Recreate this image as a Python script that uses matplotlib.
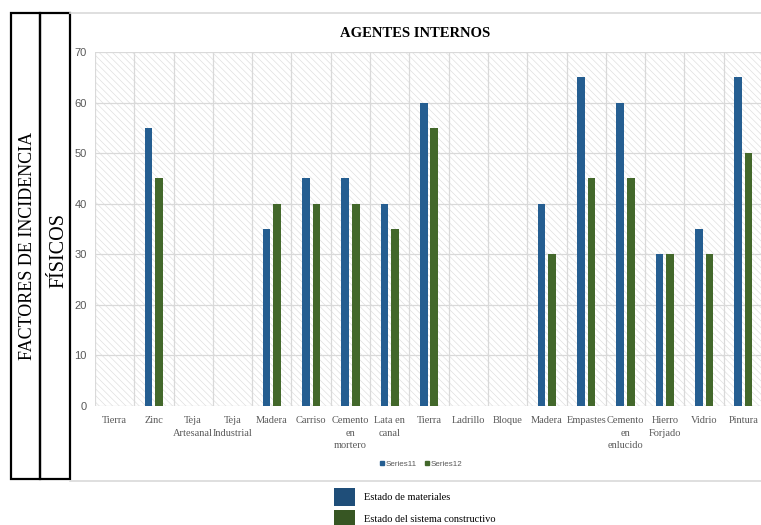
#!/usr/bin/env python3
"""Bar chart of internal agents (physical incidence factors)."""

import matplotlib

matplotlib.use("Agg")
import matplotlib.pyplot as plt
import numpy as np
from matplotlib.lines import Line2D
from matplotlib.patches import Rectangle

CATEGORIES = [
    "Tierra", "Zinc", "Teja\nArtesanal", "Teja\nIndustrial", "Madera", "Carriso",
    "Cemento\nen\nmortero", "Lata en\ncanal", "Tierra", "Ladrillo", "Bloque",
    "Madera", "Empastes", "Cemento\nen\nenlucido", "Hierro\nForjado", "Vidrio",
    "Pintura",
]
SERIES11 = [0, 55, 0, 0, 35, 45, 45, 40, 60, 0, 0, 40, 65, 60, 30, 35, 65]
SERIES12 = [0, 45, 0, 0, 40, 40, 40, 35, 55, 0, 0, 30, 45, 45, 30, 30, 50]
SERIES_NAMES = ["Series11", "Series12"]
LEGEND_LABELS = ["Estado de materiales", "Estado del sistema constructivo"]

BLUE = "#255E91"
GREEN = "#43682B"
GRID = "#D9D9D9"
TICK_GRAY = "#595959"
SERIF = "Liberation Serif"
SANS = "Liberation Sans"

W, H = 761, 525


def fx(px):
    return px / W


def fy(py):
    return 1 - py / H


def main():
    plt.rcParams["hatch.linewidth"] = 0.5

    fig = plt.figure(figsize=(W / 100, H / 100), dpi=100)
    ax = fig.add_axes([fx(95), fy(406), fx(763) - fx(95), fy(52) - fy(406)])

    n = len(CATEGORIES)
    x = np.arange(n)
    width = 0.195
    offset = 0.135

    # diagonal hatched plot background
    ax.add_patch(Rectangle((-0.5, 0), n, 70, facecolor="white", edgecolor="#E0E0E0",
                           lw=0, hatch="\\\\\\\\\\", zorder=0))
    ax.bar(x - offset, SERIES11, width, color=BLUE, zorder=3, label=SERIES_NAMES[0])
    ax.bar(x + offset, SERIES12, width, color=GREEN, zorder=3, label=SERIES_NAMES[1])

    ax.set_xlim(-0.5, n - 0.5)
    ax.set_ylim(0, 70)
    ax.set_yticks(range(0, 71, 10))
    for y in range(0, 71, 10):
        ax.axhline(y, color=GRID, lw=0.9, zorder=1)
    for b in np.arange(-0.5, n, 1.0):
        ax.axvline(b, color=GRID, lw=0.9, zorder=1)
    for s in ax.spines.values():
        s.set_visible(False)

    ax.set_xticks(x)
    ax.set_xticklabels(CATEGORIES, fontfamily=SERIF, fontsize=7.5, color=TICK_GRAY,
                       linespacing=1.55, va="top")
    ax.tick_params(axis="x", length=0, pad=7)
    ax.tick_params(axis="y", length=0, pad=6, labelsize=8, labelcolor=TICK_GRAY)
    for lbl in ax.get_yticklabels():
        lbl.set_fontfamily(SANS)

    ax.set_title("AGENTES INTERNOS", fontfamily=SERIF, fontweight="bold", fontsize=10.5,
                 x=(415 - 95) / (763 - 95), y=1.0, pad=11)

    # small series legend under the axis
    handles = [Line2D([], [], ls="none", marker="s", ms=3.5, color=c) for c in (BLUE, GREEN)]
    fig.legend(handles, SERIES_NAMES, loc="center", bbox_to_anchor=(fx(421), fy(464)),
               ncol=2, frameon=False, handlelength=0.6, handletextpad=0.2, columnspacing=0.9,
               prop={"family": SANS, "size": 5.8}, labelcolor=TICK_GRAY)

    # chart frame lines
    fig.add_artist(Line2D([fx(70), 1], [fy(13), fy(13)], color=GRID, lw=1.2))
    fig.add_artist(Line2D([fx(70), 1], [fy(481), fy(481)], color=GRID, lw=1.2))

    # left label boxes
    for x0, x1 in [(11, 40), (40, 70)]:
        fig.add_artist(Rectangle((fx(x0), fy(479)), fx(x1) - fx(x0), fy(13) - fy(479),
                                 facecolor="none", edgecolor="black", lw=1.6))
    fig.text(fx(28), fy(246), "FACTORES DE INCIDENCIA", rotation=90, ha="center", va="center",
             fontfamily=SERIF, fontsize=13)
    fig.text(fx(59), fy(250), "FÍSICOS", rotation=90, ha="center", va="center",
             fontfamily=SERIF, fontsize=14.5)

    # bottom legend
    for py, color, label in [(488, "#1F4E79", LEGEND_LABELS[0]), (510, "#375623", LEGEND_LABELS[1])]:
        fig.add_artist(Rectangle((fx(334), fy(py + 18)), fx(355) - fx(334), fy(py) - fy(py + 18),
                                 facecolor=color, edgecolor="none"))
        fig.text(fx(364), fy(py + 9), label, ha="left", va="center", fontfamily=SERIF,
                 fontsize=7.5)

    fig.savefig("out.png", dpi=100)
    plt.close(fig)


if __name__ == "__main__":
    main()
